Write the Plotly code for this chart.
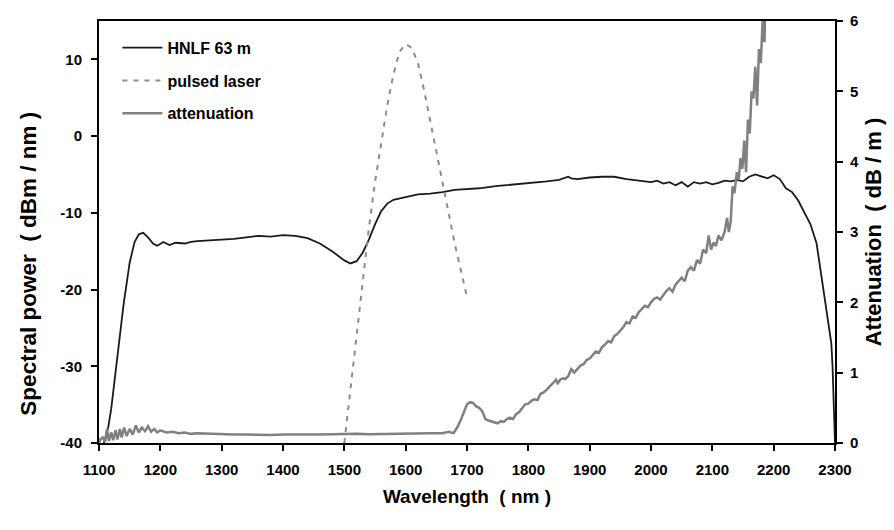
import plotly.graph_objects as go

# HNLF 63 m spectrum (left axis, dBm/nm)
hnlf_wl = [1108, 1115, 1120, 1130, 1140, 1150, 1158, 1165, 1172, 1180, 1188, 1195, 1205, 1215,
           1225, 1240, 1250, 1260, 1280, 1300, 1320, 1340, 1360, 1380, 1400, 1420, 1440, 1460,
           1480, 1500, 1510, 1520, 1530, 1540, 1550, 1560, 1570, 1580, 1600, 1620, 1640, 1660,
           1680, 1700, 1720, 1750, 1780, 1800, 1830, 1850, 1865, 1870, 1880, 1900, 1920, 1940,
           1960, 1980, 2000, 2010, 2020, 2030, 2040, 2050, 2060, 2070, 2080, 2090, 2100, 2110,
           2120, 2130, 2140, 2150, 2160, 2170, 2180, 2190, 2200, 2210, 2220, 2230, 2240, 2250,
           2260, 2270, 2280, 2288, 2294, 2296, 2298, 2300]
hnlf_db = [-40, -38, -35.5, -29, -22, -16.5, -13.8, -12.8, -12.6, -13.2, -14.0, -14.3, -13.8, -14.2,
           -13.9, -14.0, -13.8, -13.7, -13.6, -13.5, -13.4, -13.2, -13.0, -13.1, -12.9, -13.0, -13.3, -14.0,
           -15.0, -16.2, -16.6, -16.3, -15.2, -13.5, -11.5, -9.8, -8.8, -8.3, -7.9, -7.6, -7.5, -7.3,
           -7.0, -6.9, -6.8, -6.5, -6.3, -6.1, -5.9, -5.7, -5.3, -5.5, -5.6, -5.4, -5.3, -5.3,
           -5.6, -5.8, -6.0, -5.8, -6.2, -6.0, -6.4, -6.0, -6.6, -6.0, -6.2, -6.0, -6.3, -6.1,
           -5.8, -5.9, -5.7, -5.9, -5.3, -5.0, -5.3, -5.5, -5.1, -5.6, -6.8, -7.3, -8.4, -10.0,
           -11.5, -14.0, -19.5, -24.0, -27.0, -30.0, -35.0, -40.0]

# pulsed laser spectrum (left axis, dBm/nm)
pulse_wl = [1500, 1510, 1520, 1530, 1540, 1550, 1560, 1570, 1580, 1590, 1600, 1610, 1620, 1630,
            1640, 1650, 1660, 1670, 1680, 1690, 1700]
pulse_db = [-40, -33, -26, -19, -12, -6, -1, 4, 8, 11, 12, 11.5, 9.5, 6,
            2, -2, -6, -10, -14, -17.5, -21]

# fibre attenuation (right axis, dB/m)
att_wl = [1100, 1102, 1106, 1110, 1113, 1116, 1120, 1123, 1127, 1130, 1134, 1137, 1141, 1145,
          1150, 1155, 1160, 1165, 1170, 1175, 1180, 1185, 1190, 1195, 1200, 1210, 1220, 1230,
          1240, 1250, 1260, 1280, 1300, 1320, 1340, 1360, 1380, 1400, 1420, 1440, 1460, 1480,
          1500, 1520, 1540, 1560, 1580, 1600, 1620, 1640, 1660, 1670, 1678, 1684, 1690, 1695,
          1700, 1705, 1710, 1715, 1720, 1725, 1730, 1735, 1740, 1745, 1750, 1755, 1760, 1765,
          1770, 1775, 1780, 1785, 1790, 1795, 1800, 1805, 1810, 1815, 1820, 1825, 1830, 1835,
          1840, 1845, 1848, 1852, 1856, 1860, 1865, 1870, 1875, 1880, 1885, 1890, 1895, 1900,
          1905, 1910, 1915, 1920, 1925, 1930, 1935, 1940, 1945, 1950, 1955, 1960, 1965, 1970,
          1975, 1980, 1985, 1990, 1995, 2000, 2005, 2010, 2015, 2020, 2025, 2030, 2035, 2040,
          2045, 2050, 2055, 2060, 2065, 2070, 2075, 2080, 2085, 2090, 2094, 2098, 2102, 2106,
          2110, 2115, 2120, 2124, 2127, 2130, 2133, 2136, 2140, 2143, 2146, 2149, 2152, 2155,
          2158, 2161, 2164, 2167, 2170, 2173, 2176, 2179, 2182, 2185, 2187, 2190]
att_db = [0.0, 0.05, 0.08, 0.02, 0.2, 0.03, 0.15, 0.04, 0.18, 0.05, 0.2, 0.08, 0.22, 0.1,
          0.2, 0.12, 0.25, 0.15, 0.22, 0.17, 0.24, 0.16, 0.2, 0.15, 0.18, 0.15, 0.16, 0.14,
          0.15, 0.13, 0.14, 0.13, 0.125, 0.12, 0.12, 0.115, 0.115, 0.12, 0.115, 0.12, 0.12, 0.125,
          0.125, 0.13, 0.125, 0.13, 0.13, 0.13, 0.135, 0.14, 0.14, 0.16, 0.14, 0.22, 0.33, 0.45,
          0.55, 0.58, 0.57, 0.52, 0.5, 0.45, 0.34, 0.32, 0.31, 0.29, 0.28, 0.31, 0.3, 0.34,
          0.36, 0.34, 0.41, 0.44, 0.5, 0.55, 0.56, 0.6, 0.62, 0.61, 0.7, 0.72, 0.76, 0.8,
          0.85, 0.9, 0.85, 0.9, 0.92, 0.91, 0.95, 1.05, 1.0, 1.05, 1.1, 1.12, 1.18, 1.2,
          1.25, 1.3, 1.28, 1.36, 1.4, 1.45, 1.43, 1.52, 1.55, 1.6, 1.65, 1.72, 1.7, 1.8,
          1.78, 1.86, 1.9, 1.95, 1.93, 2.0, 2.05, 2.07, 2.04, 2.1, 2.16, 2.2, 2.15, 2.25,
          2.3, 2.35, 2.3, 2.45, 2.5, 2.45, 2.6, 2.55, 2.75, 2.7, 2.95, 2.75, 2.85, 2.8,
          2.95, 2.88, 3.0, 3.2, 3.0, 3.15, 3.65, 3.55, 3.85, 3.75, 4.05, 3.9, 4.3, 3.85,
          4.6, 4.4, 5.0, 4.9, 5.35, 4.8, 5.6, 5.4, 6.0, 5.7, 6.5, 7.0]

x_ticks = [1100, 1200, 1300, 1400, 1500, 1600, 1700, 1800, 1900, 2000, 2100, 2200, 2300]
y_ticks = [-40, -30, -20, -10, 0, 10]
y2_ticks = [0, 1, 2, 3, 4, 5, 6]

FONT = "Liberation Sans, Arial, sans-serif"
tickfont = dict(family=FONT, size=15, color="black", weight="bold")
xtitlefont = dict(family=FONT, size=19, color="black", weight="bold")
ytitlefont = dict(family=FONT, size=22.5, color="black", weight="bold")
y2titlefont = dict(family=FONT, size=22, color="black", weight="bold")

fig = go.Figure()
fig.add_trace(go.Scatter(x=hnlf_wl, y=hnlf_db, mode="lines", name="HNLF 63 m",
                         line=dict(color="#1a1a1a", width=1.8), legendgroup="a"))
fig.add_trace(go.Scatter(x=pulse_wl, y=pulse_db, mode="lines", name="pulsed laser",
                         line=dict(color="#8c8c8c", width=2, dash="5px,6px"), legendgroup="b"))
fig.add_trace(go.Scatter(x=att_wl, y=att_db, mode="lines", name="attenuation", yaxis="y2",
                         line=dict(color="#808080", width=2.5), legendgroup="c"))

fig.update_layout(
    width=894, height=530,
    margin=dict(l=99, r=53, t=16, b=87),
    paper_bgcolor="white", plot_bgcolor="white",
    showlegend=True,
    legend=dict(x=0.025, y=0.977, xanchor="left", yanchor="top", bgcolor="rgba(0,0,0,0)",
                font=dict(family=FONT, size=16, color="black", weight="bold"),
                tracegroupgap=9, itemwidth=40),
    xaxis=dict(range=[1100, 2300], tickvals=x_ticks, ticktext=[str(v) for v in x_ticks],
               ticks="outside", ticklen=6, tickwidth=2, ticklabelstandoff=6,
               tickcolor="black", showline=True, linecolor="black", linewidth=2, mirror=True,
               showgrid=False, zeroline=False, tickfont=tickfont,
               title=dict(text="Wavelength  ( nm )", font=xtitlefont, standoff=13)),
    yaxis=dict(range=[-40, 15], tickvals=y_ticks, ticktext=[str(v) for v in y_ticks],
               ticks="outside", ticklen=6, tickwidth=2, ticklabelstandoff=6,
               tickcolor="black", showline=True, linecolor="black", linewidth=2,
               showgrid=False, zeroline=False, tickfont=tickfont),
    yaxis2=dict(range=[0, 6], tickvals=y2_ticks, ticktext=[str(v) for v in y2_ticks],
                overlaying="y", side="right", ticks="outside", ticklabelstandoff=4,
                ticklen=6, tickwidth=2, tickcolor="black", showline=True, linecolor="black",
                linewidth=2, showgrid=False, zeroline=False, tickfont=tickfont,
                title=dict(text="Attenuation  ( dB / m )", font=y2titlefont, standoff=8)),
    annotations=[dict(text="Spectral power  ( dBm / nm )", textangle=-90, showarrow=False,
                      xref="paper", yref="paper", x=-0.0957, y=0.424,
                      xanchor="center", yanchor="middle", font=ytitlefont)],
)

fig.write_html("out.html")
